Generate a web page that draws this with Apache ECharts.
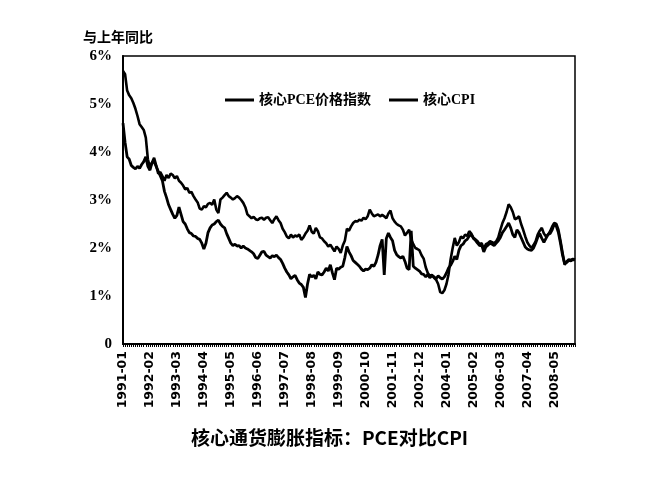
<!DOCTYPE html>
<html><head><meta charset="utf-8">
<script src="https://cdn.jsdelivr.net/npm/echarts@6/dist/echarts.min.js"></script>
<style>html,body{margin:0;padding:0;background:#fff}#c{width:659px;height:485px}</style>
</head><body><div id="c"></div>
<script>
// Core CPI, year-over-year %, monthly 1991-01 .. 2009-03
var cpi1991 = [5.69,5.62,5.28,5.18,5.12,5.02,4.90,4.75,4.58,4.52,4.46,4.30];
var cpi1992 = [3.85,3.68,3.78,3.88,3.72,3.55,3.58,3.50,3.40,3.52,3.46,3.55];
var cpi1993 = [3.52,3.45,3.50,3.40,3.36,3.30,3.22,3.25,3.15,3.17,3.08,3.01];
var cpi1994 = [2.95,2.82,2.80,2.87,2.85,2.92,2.94,2.90,3.01,2.80,2.73,3.01];
var cpi1995 = [3.05,3.10,3.15,3.08,3.05,3.01,3.04,3.08,3.05,3.00,2.94,2.85];
var cpi1996 = [2.70,2.66,2.62,2.65,2.60,2.58,2.62,2.63,2.59,2.63,2.64,2.58];
var cpi1997 = [2.52,2.60,2.66,2.58,2.52,2.40,2.33,2.24,2.20,2.28,2.22,2.26];
var cpi1998 = [2.24,2.28,2.17,2.22,2.30,2.36,2.47,2.34,2.30,2.42,2.35,2.22];
var cpi1999 = [2.20,2.14,2.10,2.03,2.07,2.00,1.93,2.03,1.98,1.90,2.05,2.15];
var cpi2000 = [2.40,2.36,2.45,2.52,2.56,2.55,2.59,2.57,2.63,2.60,2.66,2.80];
var cpi2001 = [2.72,2.66,2.68,2.70,2.66,2.69,2.66,2.62,2.72,2.78,2.62,2.55];
var cpi2002 = [2.50,2.47,2.45,2.38,2.26,2.32,2.38,2.18,2.08,2.00,1.98,1.95];
var cpi2003 = [1.85,1.78,1.60,1.48,1.42,1.44,1.38,1.34,1.25,1.08,1.06,1.12];
var cpi2004 = [1.25,1.45,1.76,2.00,2.21,2.05,2.12,2.24,2.20,2.28,2.25,2.35];
var cpi2005 = [2.30,2.21,2.18,2.14,2.08,2.10,1.98,2.08,2.10,2.14,2.12,2.10];
var cpi2006 = [2.14,2.22,2.38,2.52,2.62,2.75,2.91,2.85,2.75,2.60,2.62,2.66];
var cpi2007 = [2.50,2.38,2.24,2.12,2.05,2.00,2.06,2.14,2.28,2.36,2.42,2.30];
var cpi2008 = [2.24,2.28,2.35,2.45,2.52,2.50,2.38,2.15,1.90,1.65,1.72,1.76];
var cpi2009 = [1.75,1.77,1.76];

// Core PCE price index, year-over-year %
var pce1991 = [4.60,4.20,3.90,3.85,3.72,3.68,3.65,3.70,3.66,3.74,3.80,3.90];
var pce1992 = [3.70,3.62,3.78,3.80,3.70,3.60,3.50,3.40,3.18,3.05,2.90,2.80];
var pce1993 = [2.70,2.62,2.68,2.85,2.70,2.55,2.50,2.40,2.32,2.30,2.25,2.24];
var pce1994 = [2.20,2.18,2.10,1.98,2.10,2.32,2.42,2.48,2.50,2.55,2.58,2.50];
var pce1995 = [2.45,2.42,2.30,2.20,2.10,2.05,2.08,2.04,2.05,2.00,2.04,2.00];
var pce1996 = [1.98,1.95,1.92,1.88,1.80,1.78,1.85,1.92,1.93,1.85,1.82,1.79];
var pce1997 = [1.84,1.82,1.85,1.80,1.76,1.68,1.58,1.50,1.44,1.36,1.40,1.43];
var pce1998 = [1.34,1.27,1.24,1.18,0.97,1.25,1.45,1.40,1.43,1.36,1.50,1.45];
var pce1999 = [1.44,1.50,1.58,1.52,1.65,1.48,1.34,1.58,1.56,1.60,1.62,1.80];
var pce2000 = [2.03,1.92,1.84,1.74,1.70,1.66,1.62,1.56,1.52,1.56,1.55,1.58];
var pce2001 = [1.65,1.62,1.70,1.85,2.05,2.18,1.44,2.20,2.31,2.22,2.15,1.95];
var pce2002 = [1.86,1.82,1.79,1.83,1.72,1.58,1.55,2.36,1.62,1.58,1.55,1.52];
var pce2003 = [1.46,1.45,1.40,1.45,1.38,1.42,1.40,1.36,1.42,1.38,1.35,1.40];
var pce2004 = [1.48,1.58,1.64,1.72,1.83,1.76,1.95,2.05,2.08,2.15,2.18,2.25];
var pce2005 = [2.28,2.20,2.16,2.10,2.05,2.06,1.92,2.02,2.06,2.10,2.08,2.05];
var pce2006 = [2.10,2.15,2.22,2.32,2.38,2.45,2.52,2.42,2.28,2.22,2.38,2.32];
var pce2007 = [2.22,2.12,2.02,1.98,1.96,1.95,2.00,2.10,2.22,2.30,2.20,2.12];
var pce2008 = [2.20,2.28,2.30,2.38,2.50,2.45,2.32,2.10,1.85,1.68,1.70,1.74];
var pce2009 = [1.73,1.76,1.75];

var seriesNames = ['核心PCE价格指数', '核心CPI'];
var yTickLabels = ['0','1%','2%','3%','4%','5%','6%'];
var unitLabel = '与上年同比';
var chartTitle = '核心通货膨胀指标：PCE对比CPI';
var startYear = 1991, endYear = 2009, endMonth = 3;

var cpi = [].concat(cpi1991,cpi1992,cpi1993,cpi1994,cpi1995,cpi1996,cpi1997,cpi1998,cpi1999,cpi2000,cpi2001,cpi2002,cpi2003,cpi2004,cpi2005,cpi2006,cpi2007,cpi2008,cpi2009);
var pce = [].concat(pce1991,pce1992,pce1993,pce1994,pce1995,pce1996,pce1997,pce1998,pce1999,pce2000,pce2001,pce2002,pce2003,pce2004,pce2005,pce2006,pce2007,pce2008,pce2009);

var categories = [];
for (var y = startYear; y <= endYear; y++) {
  for (var m = 1; m <= 12; m++) {
    if (y === endYear && m > endMonth) break;
    categories.push(y + '-' + (m < 10 ? '0' + m : m));
  }
}

var chart = echarts.init(document.getElementById('c'), null, {renderer: 'canvas'});
chart.setOption({
  animation: false,
  backgroundColor: '#fff',
  grid: {left: 123, right: 84, top: 56, bottom: 141, show: true, borderColor: '#000', borderWidth: 1.5},
  legend: {
    left: 220, top: 88, itemWidth: 29, itemHeight: 3, itemGap: 18, icon: 'rect',
    data: seriesNames,
    textStyle: {fontSize: 14, fontWeight: 'bold', color: '#000', fontFamily: '"Liberation Serif", "Noto Sans CJK SC"'}
  },
  graphic: [
    {type: 'text', left: 83, top: 30, style: {text: unitLabel, font: 'bold 14px "Noto Sans CJK SC"', fill: '#000'}},
    {type: 'text', left: 'center', top: 428, style: {text: chartTitle, font: 'bold 19px "Noto Sans CJK SC"', fill: '#000'}}
  ],
  xAxis: {
    type: 'category', boundaryGap: false, data: categories,
    axisLine: {lineStyle: {color: '#000', width: 2}},
    axisTick: {show: true, interval: 0, length: 3, lineStyle: {color: '#000', width: 1}},
    axisLabel: {interval: 12, rotate: 90, color: '#000', fontSize: 12.5, fontWeight: 'bold', fontFamily: '"DejaVu Sans"', margin: 7},
    splitLine: {show: false}
  },
  yAxis: {
    type: 'value', min: 0, max: 6, interval: 1,
    axisLine: {show: true, lineStyle: {color: '#000', width: 2}},
    axisTick: {show: false},
    axisLabel: {color: '#000', fontSize: 15, fontWeight: 'bold', fontFamily: '"Liberation Serif"', margin: 11,
      formatter: function (v) { return yTickLabels[Math.round(v)]; }},
    splitLine: {show: false}
  },
  series: [
    {name: seriesNames[0], type: 'line', data: pce, symbol: 'none', lineStyle: {color: '#000', width: 2.8}, itemStyle: {color: '#000'}},
    {name: seriesNames[1], type: 'line', data: cpi, symbol: 'none', lineStyle: {color: '#000', width: 2.6}, itemStyle: {color: '#000'}}
  ]
});
</script></body></html>
